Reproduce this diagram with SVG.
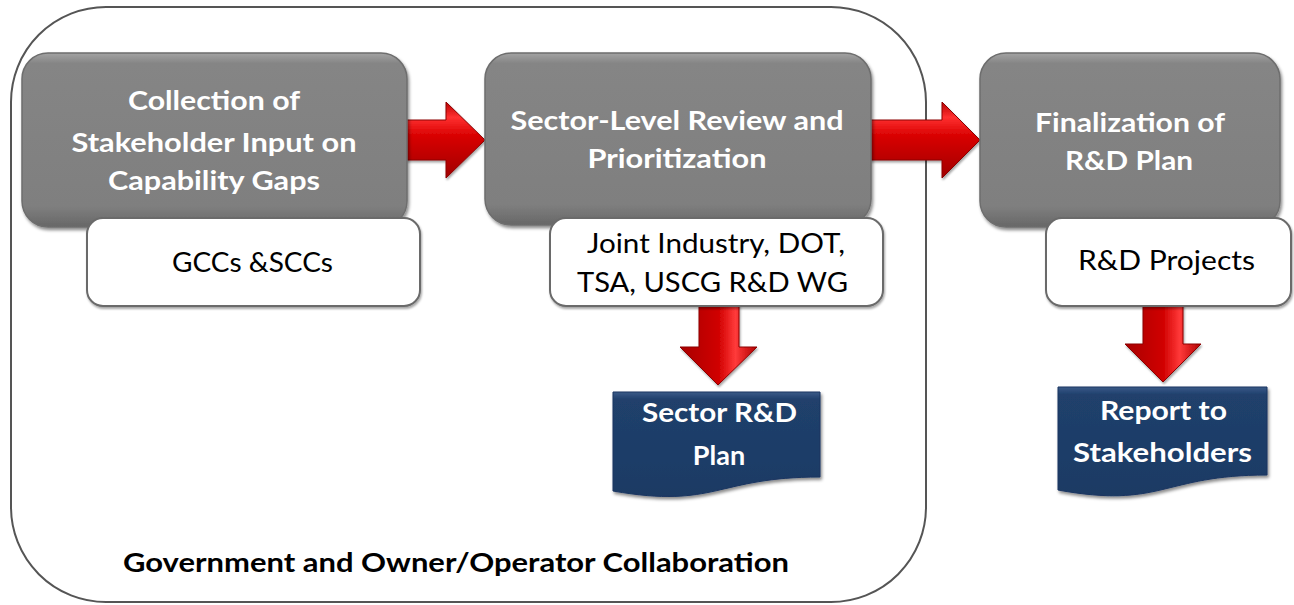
<svg xmlns="http://www.w3.org/2000/svg" width="1294" height="605" viewBox="0 0 1294 605">
  <defs>
    <linearGradient id="grayFill" x1="0" y1="0" x2="0" y2="1">
      <stop offset="0" stop-color="#a3a3a3"/>
      <stop offset="0.06" stop-color="#858585"/>
      <stop offset="0.88" stop-color="#7f7f7f"/>
      <stop offset="1" stop-color="#676767"/>
    </linearGradient>
    <linearGradient id="navyFill" x1="0" y1="0" x2="0" y2="1">
      <stop offset="0" stop-color="#3a5a88"/>
      <stop offset="0.07" stop-color="#20406c"/>
      <stop offset="1" stop-color="#1c3a64"/>
    </linearGradient>
    <linearGradient id="redH" x1="0" y1="0" x2="0" y2="1">
      <stop offset="0" stop-color="#b80000"/>
      <stop offset="0.2" stop-color="#ff3030"/>
      <stop offset="0.45" stop-color="#d80000"/>
      <stop offset="1" stop-color="#a00000"/>
    </linearGradient>
    <linearGradient id="redV" x1="0" y1="0" x2="1" y2="0">
      <stop offset="0" stop-color="#a80000"/>
      <stop offset="0.5" stop-color="#d00000"/>
      <stop offset="0.72" stop-color="#ff3a3a"/>
      <stop offset="1" stop-color="#b00000"/>
    </linearGradient>
    <filter id="shadow" x="-10%" y="-10%" width="120%" height="130%">
      <feDropShadow dx="1.5" dy="2.5" stdDeviation="1.8" flood-color="#000" flood-opacity="0.45"/>
    </filter>
    <filter id="softShadow" x="-10%" y="-10%" width="120%" height="130%">
      <feDropShadow dx="1" dy="2" stdDeviation="1.2" flood-color="#000" flood-opacity="0.35"/>
    </filter>
  </defs>
  <style>
    .container { fill: #ffffff; stroke: #555555; stroke-width: 2; }
    .step { fill: url(#grayFill); stroke: #6e6e6e; stroke-width: 1.5; filter: url(#shadow); }
    .who { fill: #ffffff; stroke: #6a6a6a; stroke-width: 2; filter: url(#softShadow); }
    .doc { fill: url(#navyFill); stroke: #1a3560; stroke-width: 1; filter: url(#shadow); }
    .arrowH { fill: url(#redH); stroke: #8c0000; stroke-width: 1; filter: url(#softShadow); }
    .arrowV { fill: url(#redV); stroke: #8c0000; stroke-width: 1; filter: url(#softShadow); }
    .title { font-family: Lato, "Liberation Sans", sans-serif; font-weight: bold; font-size: 27px; fill: #ffffff; text-anchor: middle; }
    .label { font-family: Lato, "Liberation Sans", sans-serif; font-size: 27px; fill: #000000; text-anchor: middle; }
    .caption { font-family: Lato, "Liberation Sans", sans-serif; font-weight: bold; font-size: 27px; fill: #000000; text-anchor: middle; }
  </style>

  <!-- collaboration boundary -->
  <g id="collaboration">
    <rect class="container" x="11" y="7" width="915" height="595" rx="95" ry="95"/>
    <text class="caption" x="456" y="572" textLength="666" lengthAdjust="spacingAndGlyphs">Government and Owner/Operator Collaboration</text>
  </g>

  <!-- connectors -->
  <g id="connectors">
    <polygon class="arrowH" points="406,120 446,120 446,102 485,140 446,178 446,160 406,160"/>
    <polygon class="arrowH" points="870,120 942,120 942,102 980,140 942,178 942,160 870,160"/>
    <polygon class="arrowV" points="699,300 739,300 739,347 757,347 718,385 680,347 699,347"/>
    <polygon class="arrowV" points="1143,300 1183,300 1183,344 1201,344 1163,382 1125,344 1143,344"/>
  </g>

  <!-- step 1 -->
  <g id="collection">
    <rect class="step" x="22" y="53" width="385" height="174" rx="26" ry="26"/>
    <text class="title" x="214" y="110" textLength="172" lengthAdjust="spacingAndGlyphs">Collection of</text>
    <text class="title" x="214" y="152" textLength="285" lengthAdjust="spacingAndGlyphs">Stakeholder Input on</text>
    <text class="title" x="214" y="190" textLength="212" lengthAdjust="spacingAndGlyphs">Capability Gaps</text>
  </g>
  <g id="gccs">
    <rect class="who" x="87" y="218" width="333" height="88" rx="16" ry="16"/>
    <text class="label" x="252.5" y="272" textLength="161" lengthAdjust="spacingAndGlyphs">GCCs &amp;SCCs</text>
  </g>

  <!-- step 2 -->
  <g id="review">
    <rect class="step" x="485" y="53" width="386" height="172" rx="26" ry="26"/>
    <text class="title" x="677" y="130" textLength="333" lengthAdjust="spacingAndGlyphs">Sector-Level Review and</text>
    <text class="title" x="677" y="168" textLength="179" lengthAdjust="spacingAndGlyphs">Prioritization</text>
  </g>
  <g id="working-group">
    <rect class="who" x="550" y="218" width="333" height="88" rx="16" ry="16"/>
    <text class="label" x="716" y="253" textLength="258" lengthAdjust="spacingAndGlyphs">Joint Industry, DOT,</text>
    <text class="label" x="712.5" y="292" textLength="271" lengthAdjust="spacingAndGlyphs">TSA, USCG R&amp;D WG</text>
  </g>

  <!-- step 3 -->
  <g id="finalization">
    <rect class="step" x="980" y="53" width="300" height="174" rx="26" ry="26"/>
    <text class="title" x="1130" y="132" textLength="190" lengthAdjust="spacingAndGlyphs">Finalization of</text>
    <text class="title" x="1129" y="170" textLength="128" lengthAdjust="spacingAndGlyphs">R&amp;D Plan</text>
  </g>
  <g id="projects">
    <rect class="who" x="1046" y="218" width="245" height="88" rx="16" ry="16"/>
    <text class="label" x="1166.5" y="270" textLength="177" lengthAdjust="spacingAndGlyphs">R&amp;D Projects</text>
  </g>

  <!-- output documents -->
  <g id="sector-plan">
    <path class="doc" d="M613,392 L820,392 L820,477 C716,477 716,509 613,491 Z"/>
    <text class="title" x="719.5" y="422" textLength="155" lengthAdjust="spacingAndGlyphs">Sector R&amp;D</text>
    <text class="title" x="719" y="465">Plan</text>
  </g>
  <g id="report">
    <path class="doc" d="M1058,387 L1267,387 L1267,475 C1162,475 1162,509 1058,490 Z"/>
    <text class="title" x="1163.5" y="420" textLength="127" lengthAdjust="spacingAndGlyphs">Report to</text>
    <text class="title" x="1162.5" y="462" textLength="179" lengthAdjust="spacingAndGlyphs">Stakeholders</text>
  </g>
</svg>
